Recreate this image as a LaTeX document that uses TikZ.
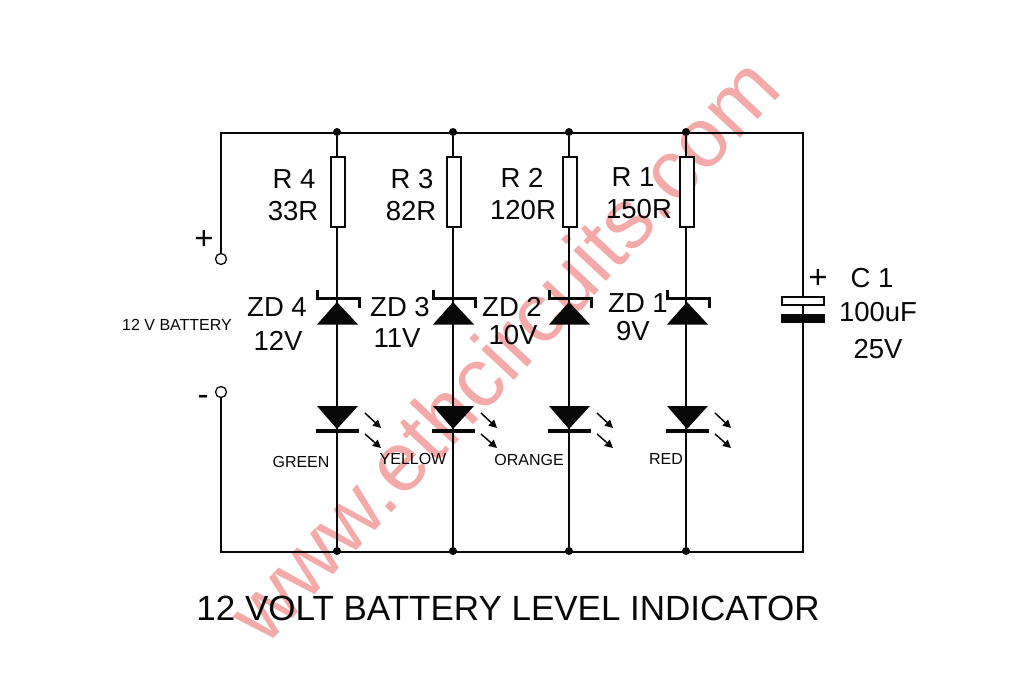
\documentclass[tikz,border=0pt]{standalone}
\usepackage{fontspec}
\setmainfont{Liberation Sans}
\usetikzlibrary{arrows.meta}
\definecolor{mark}{RGB}{243,170,168}
\definecolor{ink}{RGB}{8,8,8}
\tikzset{
  wire/.style={draw=ink,line width=2pt},
  res/.style={draw=ink,fill=white,line width=1.7pt,minimum width=14pt,minimum height=70pt,inner sep=0pt},
  term/.style={circle,draw=ink,fill=white,line width=1.3pt,minimum size=11pt,inner sep=0pt},
  dot/.style={circle,fill=ink,minimum size=8pt,inner sep=0pt},
  lab/.style={text=ink,font=\fontsize{27.5}{27.5}\selectfont,inner sep=0pt},
  sign/.style={text=ink,font=\fontsize{33}{33}\selectfont,inner sep=0pt},
  small/.style={text=ink,font=\fontsize{16}{16}\selectfont,inner sep=0pt},
  plate/.style={draw=ink,line width=1.6pt,minimum width=42pt,minimum height=8pt,inner sep=0pt},
  ray/.style={draw=ink,line width=1.5pt,-{Triangle[length=8pt,width=8pt]}},
}
\newcommand{\zener}[1]{%
  \fill[ink] (#1-20,324.5) -- (#1+21,324.5) -- (#1,302) -- cycle;
  \draw[ink,line width=3pt,line cap=butt] (#1-20,290) -- (#1-20,298) -- (#1+22,298) -- (#1+22,308);
}
\newcommand{\led}[1]{%
  \fill[ink] (#1-20,406) -- (#1+21,406) -- (#1,429) -- cycle;
  \draw[ink,line width=4pt] (#1-21,431) -- (#1+22,431);
  \draw[ray] (#1+28,413) -- (#1+44,428);
  \draw[ray] (#1+28,434) -- (#1+44,448);
}
\begin{document}
\begin{tikzpicture}[x=1pt,y=-1pt]
\useasboundingbox (0,0) rectangle (1024,683);
\fill[white] (0,0) rectangle (1024,683);
% watermark
\node[rotate=47,text=mark,font=\fontsize{84}{84}\selectfont,inner sep=0pt] (wm) at (503,349) {www.ethcircuits.com};
% frame points
\coordinate (tl) at (221,133);
\coordinate (tr) at (803,133);
\coordinate (bl) at (221,552);
\coordinate (br) at (803,552);
\node[term] (plus) at (221,259) {};
\node[term] (minus) at (221,392) {};
\node[dot] (t4) at (337,132) {};
\node[dot] (t3) at (453,132) {};
\node[dot] (t2) at (569,132) {};
\node[dot] (t1) at (686,132) {};
\node[dot] (b4) at (337,551) {};
\node[dot] (b3) at (453,551) {};
\node[dot] (b2) at (569,551) {};
\node[dot] (b1) at (686,551) {};
% frame
\draw[wire] (plus) -- (tl) -- (tr) -- (br) -- (bl) -- (minus);
% branches
\draw[wire] (t4) -- (b4);
\draw[wire] (t3) -- (b3);
\draw[wire] (t2) -- (b2);
\draw[wire] (t1) -- (b1);
% resistors
\node[res] (r4) at (338,192) {};
\node[res] (r3) at (454,192) {};
\node[res] (r2) at (570,192) {};
\node[res] (r1) at (687,192) {};
% diodes
\zener{337}\zener{453}\zener{569}\zener{687}
\led{337}\led{453}\led{569}\led{687}
% capacitor
\node[plate,fill=white] (cp) at (803,301) {};
\node[plate,fill=ink] (cn) at (803,318.5) {};
% labels
\node[lab] (lr4) at (294,179) {R 4};
\node[lab] (vr4) at (293,211) {33R};
\node[lab] (lr3) at (412,179) {R 3};
\node[lab] (vr3) at (411,211) {82R};
\node[lab] (lr2) at (522,178) {R 2};
\node[lab] (vr2) at (523,210) {120R};
\node[lab] (lr1) at (633,177) {R 1};
\node[lab] (vr1) at (639,209) {150R};
\node[lab] (lz4) at (277,307) {ZD 4};
\node[lab] (vz4) at (278,341) {12V};
\node[lab] (lz3) at (400,307) {ZD 3};
\node[lab] (vz3) at (397,338) {11V};
\node[lab] (lz2) at (512,307) {ZD 2};
\node[lab] (vz2) at (513,335) {10V};
\node[lab] (lz1) at (638,303) {ZD 1};
\node[lab] (vz1) at (633,331) {9V};
\node[sign] (sp) at (204,240) {+};
\node[sign] (sm) at (203,400) {-};
\node[sign] (cpl) at (818,279) {+};
\node[lab] (lc) at (872,278) {C 1};
\node[lab] (vc) at (878,312) {100uF};
\node[lab] (vv) at (878,349) {25V};
\node[small] (bat) at (177,325) {12 V BATTERY};
\node[small] (g) at (301,462) {GREEN};
\node[small] (y) at (413,459) {YELLOW};
\node[small] (o) at (529,460) {ORANGE};
\node[small] (rd) at (666,459) {RED};
\node[text=ink,font=\fontsize{35}{35}\selectfont,inner sep=0pt] (title) at (508,608) {12 VOLT BATTERY LEVEL INDICATOR};
\end{tikzpicture}
\end{document}
